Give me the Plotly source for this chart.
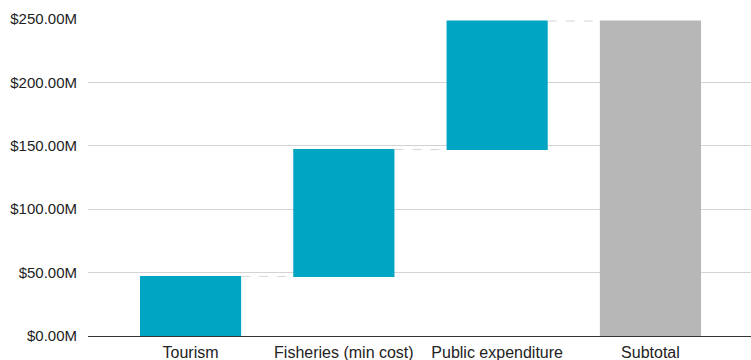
import plotly.graph_objects as go

categories = ["Tourism", "Fisheries (min cost)", "Public expenditure", "Subtotal"]
values_m = [47.0, 100.0, 101.4, 0]
measures = ["relative", "relative", "relative", "total"]
tick_vals = [0, 50, 100, 150, 200, 250]
tick_text = ["$0.00M", "$50.00M", "$100.00M", "$150.00M", "$200.00M", "$250.00M"]

fig = go.Figure(go.Waterfall(
    x=categories,
    y=values_m,
    measure=measures,
    increasing=dict(marker=dict(color="#00A5C3")),
    decreasing=dict(marker=dict(color="#00A5C3")),
    totals=dict(marker=dict(color="#B7B7B7")),
    connector=dict(mode="between", line=dict(color="#d6d6d6", dash="dash", width=1)),
    textposition="none",
    hoverinfo="skip",
))

fig.update_layout(
    width=751, height=360,
    margin=dict(l=88, r=0, t=19, b=24),
    paper_bgcolor="white", plot_bgcolor="white",
    showlegend=False,
    waterfallgap=0.34,
    font=dict(family="Liberation Sans, Arial", size=15, color="#222222"),
    xaxis=dict(
        range=[-0.669, 3.656], showgrid=False, ticks="", ticklen=0,
        ticklabelstandoff=5,
        tickfont=dict(size=16, color="#222222"),
    ),
    yaxis=dict(
        range=[0, 250], tickvals=tick_vals, ticktext=tick_text,
        showgrid=True, gridcolor="#d3d3d3", gridwidth=1,
        zeroline=True, zerolinecolor="#333333", zerolinewidth=1,
        ticks="", ticklabelstandoff=10,
        tickfont=dict(size=15, color="#222222"),
    ),
)

fig.write_html("out.html")
